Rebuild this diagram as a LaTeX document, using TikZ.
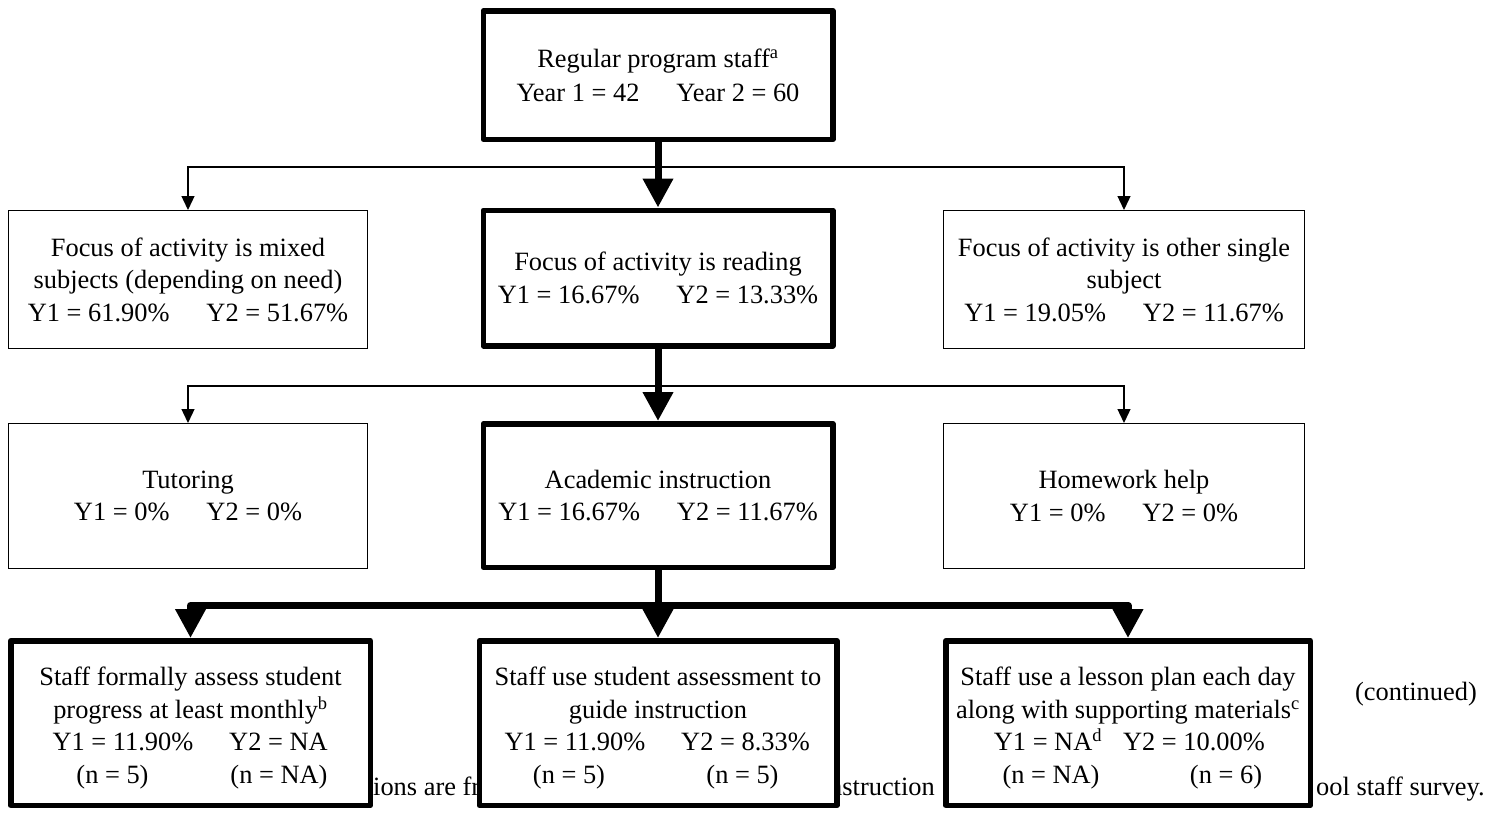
\documentclass[tikz,border=0pt]{standalone}
\usepackage{fontspec}
\setmainfont{Liberation Serif}
\usetikzlibrary{arrows.meta}

% place #2 centred at #1pt from the left end of a line
\newcommand{\colat}[2]{\rlap{\hspace*{#1pt}\makebox[0pt]{#2}}}
% a 340pt-wide line holding two centred entries
\newcommand{\cols}[4]{\makebox[340pt][l]{\colat{#1}{#2}\colat{#3}{#4}}}
\newcommand{\tabgap}{\hspace{37pt}}
% extra room above the first line of the lower boxes
\newcommand{\topstrut}{\rule{0pt}{28.5pt}}

\begin{document}
\begin{tikzpicture}[x=1pt,y=-1pt,
  every node/.style={font=\fontsize{26.4pt}{32.5pt}\selectfont, align=center, inner sep=0pt},
  thinbox/.style={draw, line width=1.3pt, fill=white},
  boldbox/.style={draw, line width=5.5pt, fill=white, line join=round},
  thinarrow/.style={line width=1.3pt, -{Triangle[length=14pt 0 1, width=13pt 0 1]}},
  boldarrow/.style={line width=7pt, line join=round, -{Triangle[length=29pt 0 1, width=29pt 0 1]}},
  fragment/.style={anchor=base west}
]
\useasboundingbox (0,0) rectangle (1489,812);

% top level
\node[boldbox, minimum width=349.5pt, minimum height=128.5pt,
      font=\fontsize{26.4pt}{34pt}\selectfont] (staff) at (658,75)
  {Regular program staff\textsuperscript{a}\\Year 1 = 42\tabgap Year 2 = 60};

% focus of activity
\node[thinbox, minimum width=358.7pt, minimum height=137.7pt] (mixed) at (188,279.5)
  {Focus of activity is mixed\\subjects (depending on need)\\Y1 = 61.90\%\tabgap Y2 = 51.67\%};
\node[boldbox, minimum width=349.5pt, minimum height=135.5pt] (reading) at (658,278)
  {Focus of activity is reading\\Y1 = 16.67\%\tabgap Y2 = 13.33\%};
\node[thinbox, minimum width=360.7pt, minimum height=137.7pt] (other) at (1124,279.5)
  {Focus of activity is other single\\subject\\Y1 = 19.05\%\tabgap Y2 = 11.67\%};

% type of activity
\node[thinbox, minimum width=358.7pt, minimum height=144.7pt] (tutor) at (188,496)
  {Tutoring\\Y1 = 0\%\tabgap Y2 = 0\%};
\node[boldbox, minimum width=349.5pt, minimum height=143.5pt] (acad) at (658,495.5)
  {Academic instruction\\Y1 = 16.67\%\tabgap Y2 = 11.67\%};
\node[thinbox, minimum width=360.7pt, minimum height=144.7pt] (homework) at (1124,496)
  {Homework help\\Y1 = 0\%\tabgap Y2 = 0\%};

% note line, partly covered by the boxes below
\node[fragment] (noteA) at (373,795) {ions are fr};
\node[anchor=base east] (noteB) at (935,795) {nstruction};
\node[anchor=base east] (noteC) at (1485,795) {ool staff survey.};
\node[anchor=base east] (cont) at (1477,700) {(continued)};

% practices
\node[boldbox, minimum width=359.5pt, minimum height=164.5pt] (assess) at (190.5,723)
  {\topstrut Staff formally assess student\\progress at least monthly\textsuperscript{b}\\
   \cols{102.5}{Y1 = 11.90\%}{258}{Y2 = NA}\\
   \cols{92}{(n = 5)}{258.5}{(n = NA)}};
\node[boldbox, minimum width=357.5pt, minimum height=164.5pt] (guide) at (658,723)
  {\topstrut Staff use student assessment to\\guide instruction\\
   \cols{87}{Y1 = 11.90\%}{257.5}{Y2 = 8.33\%}\\
   \cols{81}{(n = 5)}{254.5}{(n = 5)}};
\node[boldbox, minimum width=364.5pt, minimum height=164.5pt] (plan) at (1128,723)
  {\topstrut Staff use a lesson plan each day\\along with supporting materials\textsuperscript{c}\\
   \cols{90}{Y1 = NA\textsuperscript{d}}{236}{Y2 = 10.00\%}\\
   \cols{93}{(n = NA)}{268}{(n = 6)}};

% branch points
\coordinate (fork1) at (658,167);
\coordinate (fork2) at (658,386);
\coordinate (fork3) at (658,605.5);

% thin branches
\draw[thinarrow] (fork1) -| (mixed.north);
\draw[thinarrow] (fork1) -| (other.north);
\draw[thinarrow] (fork2) -| (tutor.north);
\draw[thinarrow] (fork2) -| (homework.north);

% main path
\draw[boldarrow] (staff.south) -- (reading.north);
\draw[boldarrow] (reading.south) -- (acad.north);
\draw[line width=7pt] (acad.south) -- (fork3);
\draw[boldarrow] (fork3) -| (assess.north);
\draw[boldarrow] (fork3) -- (guide.north);
\draw[boldarrow] (fork3) -| (plan.north);
\end{tikzpicture}
\end{document}
